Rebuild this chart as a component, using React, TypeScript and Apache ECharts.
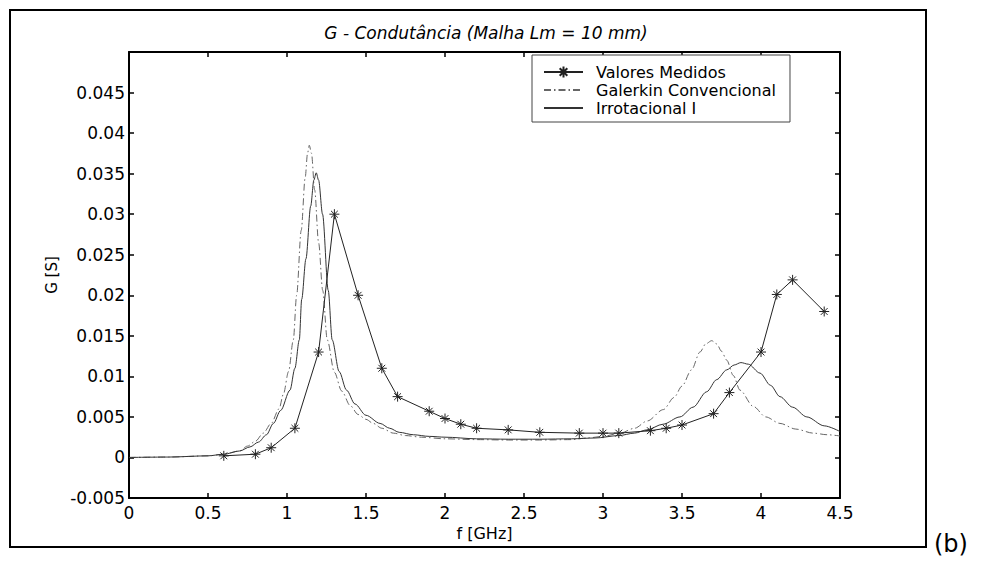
import React, { useEffect, useRef } from "react";
import * as echarts from "echarts";

// Measured conductance (GHz, S)
const freqMedidos = [0.6, 0.8, 0.9, 1.05, 1.2, 1.3, 1.45, 1.6, 1.7, 1.9, 2.0, 2.1, 2.2, 2.4, 2.6, 2.85, 3.0, 3.1, 3.3, 3.4, 3.5, 3.7, 3.8, 4.0, 4.1, 4.2, 4.4];
const gMedidos = [0.0002, 0.0004, 0.0012, 0.0036, 0.013, 0.030, 0.020, 0.011, 0.0075, 0.0057, 0.0048, 0.0041, 0.0036, 0.0034, 0.0031, 0.0030, 0.0030, 0.0030, 0.0033, 0.0036, 0.0040, 0.0054, 0.0080, 0.0130, 0.0201, 0.0219, 0.0180];

// Conventional Galerkin solution
const freqGalerkin = [0, 0.25, 0.5, 0.6, 0.7, 0.75, 0.8, 0.85, 0.9, 0.95, 0.977, 1.01, 1.04, 1.061, 1.09, 1.115, 1.13, 1.141, 1.155, 1.175, 1.2, 1.226, 1.255, 1.3, 1.346, 1.4, 1.45, 1.5, 1.546, 1.6, 1.673, 1.75, 1.85, 2.0, 2.2, 2.4, 2.6, 2.8, 2.9, 3.0, 3.108, 3.2, 3.28, 3.382, 3.45, 3.5, 3.56, 3.614, 3.65, 3.688, 3.72, 3.75, 3.783, 3.825, 3.867, 3.951, 4.03, 4.12, 4.22, 4.33, 4.42, 4.5];
const gGalerkin = [0, 0.00005, 0.0002, 0.0004, 0.0008, 0.0014, 0.002, 0.003, 0.0042, 0.006, 0.0078, 0.0106, 0.0145, 0.0200, 0.0280, 0.0345, 0.0375, 0.0385, 0.0375, 0.0330, 0.0265, 0.0206, 0.0145, 0.0105, 0.0082, 0.0064, 0.0053, 0.0047, 0.0042, 0.0036, 0.0030, 0.0027, 0.0025, 0.0023, 0.0022, 0.00215, 0.00215, 0.0022, 0.0024, 0.0026, 0.0030, 0.0036, 0.0045, 0.0059, 0.0074, 0.0088, 0.0108, 0.0130, 0.0140, 0.0144, 0.0140, 0.0131, 0.0120, 0.0101, 0.0083, 0.0063, 0.0050, 0.0042, 0.0035, 0.0030, 0.0028, 0.00265];

// Irrotational formulation I
const freqIrrot = [0, 0.25, 0.5, 0.6, 0.7, 0.766, 0.82, 0.87, 0.914, 0.96, 1.019, 1.05, 1.078, 1.093, 1.12, 1.15, 1.17, 1.185, 1.2, 1.225, 1.261, 1.286, 1.33, 1.377, 1.43, 1.5, 1.589, 1.65, 1.71, 1.8, 1.9, 2.0, 2.2, 2.4, 2.6, 2.8, 2.95, 3.1, 3.2, 3.277, 3.38, 3.487, 3.57, 3.656, 3.72, 3.783, 3.83, 3.873, 3.92, 3.994, 4.06, 4.12, 4.2, 4.29, 4.4, 4.5];
const gIrrot = [0, 0.00005, 0.0002, 0.0004, 0.0008, 0.0013, 0.0019, 0.0028, 0.0042, 0.0058, 0.0083, 0.0110, 0.0145, 0.0195, 0.0245, 0.0310, 0.0342, 0.0351, 0.0342, 0.0300, 0.0206, 0.0145, 0.0106, 0.0083, 0.0066, 0.0052, 0.0042, 0.0036, 0.0031, 0.0028, 0.0026, 0.0025, 0.0023, 0.00225, 0.00225, 0.0023, 0.0024, 0.0027, 0.0030, 0.0034, 0.0041, 0.0050, 0.0062, 0.0081, 0.0096, 0.0108, 0.0114, 0.0117, 0.0115, 0.0104, 0.0089, 0.0075, 0.0062, 0.0050, 0.0039, 0.0032];

const seriesNames = ["Valores Medidos", "Galerkin Convencional", "Irrotacional I"];

const FONT = "DejaVu Sans";
const ASTERISK = "path://M5,0L5,10M0,5L10,5M1.6,1.6L8.4,8.4M1.6,8.4L8.4,1.6";

const zip = (xs: number[], ys: number[]) => xs.map((x, i) => [x, ys[i]]);
const fmt = (v: number) => String(+v.toFixed(4));

export default function App() {
  const ref = useRef<HTMLDivElement>(null);

  useEffect(() => {
    if (!ref.current) return;
    const chart = echarts.init(ref.current, undefined, { renderer: "svg" });

    const axisLine = { show: true, onZero: false, lineStyle: { color: "#000", width: 2 } };
    const axisTick = { show: true, inside: true, length: 5, lineStyle: { color: "#000", width: 1.5 } };

    chart.setOption({
      animation: false,
      backgroundColor: "#fff",
      grid: { left: 129, right: 142, top: 52, bottom: 69, containLabel: false },
      xAxis: [
        {
          type: "value", min: 0, max: 4.5, interval: 0.5, position: "bottom",
          name: "f [GHz]", nameLocation: "middle", nameGap: 22,
          nameTextStyle: { fontFamily: FONT, fontSize: 16, color: "#000" },
          axisLine, axisTick,
          axisLabel: { margin: 6, fontFamily: FONT, fontSize: 17, color: "#000", formatter: fmt },
          splitLine: { show: false },
        },
        {
          type: "value", min: 0, max: 4.5, interval: 0.5, position: "top",
          axisLine, axisTick, axisLabel: { show: false }, splitLine: { show: false },
        },
      ],
      yAxis: [
        {
          type: "value", min: -0.005, max: 0.05, interval: 0.005, position: "left",
          name: "G [S]", nameLocation: "middle", nameGap: 34, nameRotate: 90,
          nameTextStyle: { fontFamily: FONT, fontSize: 15, color: "#000" },
          axisLine, axisTick,
          axisLabel: { margin: 4, fontFamily: FONT, fontSize: 17, color: "#000", formatter: fmt, showMaxLabel: false },
          splitLine: { show: false },
        },
        {
          type: "value", min: -0.005, max: 0.05, interval: 0.005, position: "right",
          axisLine, axisTick, axisLabel: { show: false }, splitLine: { show: false },
        },
      ],
      legend: {
        orient: "vertical", left: 532, top: 55,
        padding: [8, 14, 5, 11],
        itemWidth: 39, itemHeight: 14, itemGap: 0,
        borderColor: "#444", borderWidth: 1, borderRadius: 0, backgroundColor: "#fff",
        textStyle: { fontFamily: FONT, fontSize: 16, color: "#000", lineHeight: 18, padding: [0, 0, 0, 8] },
        data: [
          { name: seriesNames[0] },
          { name: seriesNames[1], itemStyle: { opacity: 0 } },
          { name: seriesNames[2], itemStyle: { opacity: 0 } },
        ],
      },
      series: [
        {
          name: seriesNames[0], type: "line", data: zip(freqMedidos, gMedidos),
          symbol: ASTERISK, symbolSize: 10, showAllSymbol: true,
          lineStyle: { color: "#222", width: 1 },
          itemStyle: { color: "#222", borderColor: "#222", borderWidth: 1 },
          z: 4,
        },
        {
          name: seriesNames[1], type: "line", data: zip(freqGalerkin, gGalerkin),
          symbol: "none", showSymbol: false, smooth: 0.3, smoothMonotone: "x",
          lineStyle: { color: "#666", width: 1, type: [7, 3, 1.5, 3] },
          itemStyle: { color: "#666" },
          z: 2,
        },
        {
          name: seriesNames[2], type: "line", data: zip(freqIrrot, gIrrot),
          symbol: "none", showSymbol: false, smooth: 0.3, smoothMonotone: "x",
          lineStyle: { color: "#333", width: 1 },
          itemStyle: { color: "#333" },
          z: 3,
        },
      ],
      graphic: [
        {
          type: "rect", silent: true,
          shape: { x: 10, y: 10, width: 916, height: 537 },
          style: { fill: "none", stroke: "#000", lineWidth: 2 },
        },
        {
          type: "text", silent: true, x: 486, y: 33,
          style: {
            text: "G - Condutância (Malha Lm = 10 mm)",
            font: `italic 17px "${FONT}"`, fill: "#000",
            align: "center", verticalAlign: "middle",
          },
        },
        {
          type: "text", silent: true, x: 934, y: 544,
          style: { text: "(b)", font: `24px "${FONT}"`, fill: "#000", align: "left", verticalAlign: "middle" },
        },
      ],
    });

    return () => chart.dispose();
  }, []);

  return (
    <div
      ref={ref}
      style={{ position: "fixed", left: 0, top: 0, width: 982, height: 567, background: "#fff" }}
    />
  );
}
